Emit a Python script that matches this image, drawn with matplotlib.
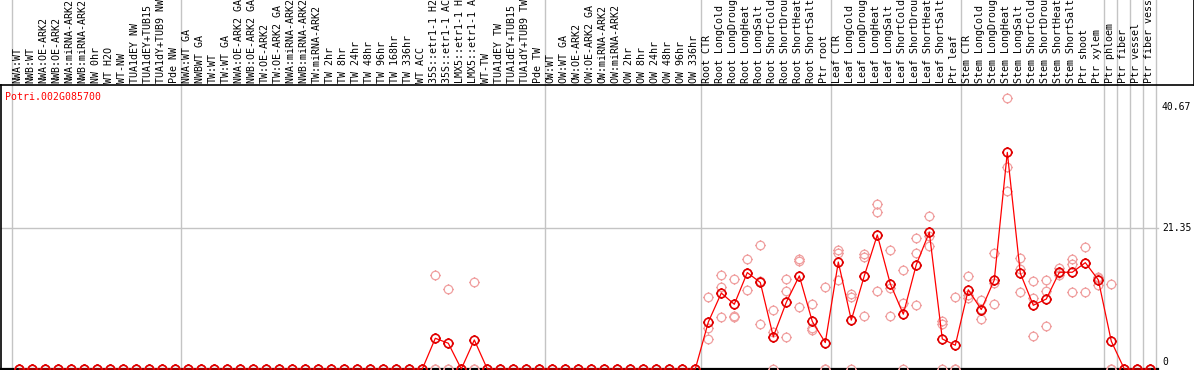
import matplotlib
matplotlib.use("Agg")
import matplotlib.pyplot as plt
import numpy as np
from matplotlib.path import Path

gene = "Potri.002G085700"

samples = [
    # group 1
    "NWA:WT", "NWB:WT", "NWA:OE-ARK2", "NWB:OE-ARK2", "NWA:miRNA-ARK2", "NWB:miRNA-ARK2",
    "NW 0hr", "WT H2O", "WT-NW", "TUA1dEY NW", "TUA1dEY+TUB15 NW", "TUA1dY+TUB9 NW", "Pde NW",
    # group 2
    "NWA:WT GA", "NWBWT GA", "TW:WT", "TW:WT GA", "NWA:OE-ARK2 GA", "NWB:OE-ARK2 GA",
    "TW:OE-ARK2", "TW:OE-ARK2 GA", "NWA:miRNA-ARK2 GA", "NWB:miRNA-ARK2 GA", "TW:miRNA-ARK2",
    "TW 2hr", "TW 8hr", "TW 24hr", "TW 48hr", "TW 96hr", "TW 168hr", "TW 336hr", "WT ACC",
    "35S::etr1-1 H2O", "35S::etr1-1 ACC", "LMX5::etr1-1 H2O", "LMX5::etr1-1 ACC",
    "WT-TW", "TUA1dEY TW", "TUA1dEY+TUB15 TW", "TUA1dY+TUB9 TW", "Pde TW",
    # group 3
    "OW:WT", "OW:WT GA", "OW:OE-ARK2", "OW:OE-ARK2 GA", "OW:miRNA-ARK2", "OW:miRNA-ARK2 GA",
    "OW 2hr", "OW 8hr", "OW 24hr", "OW 48hr", "OW 96hr", "OW 336hr",
    # root
    "Root CTR", "Root LongCold", "Root LongDrought", "Root LongHeat", "Root LongSalt",
    "Root ShortCold", "Root ShortDrought", "Root ShortHeat", "Root ShortSalt", "Ptr root",
    # leaf
    "Leaf CTR", "Leaf LongCold", "Leaf LongDrought", "Leaf LongHeat", "Leaf LongSalt",
    "Leaf ShortCold", "Leaf ShortDrought", "Leaf ShortHeat", "Leaf ShortSalt", "Ptr leaf",
    # stem
    "Stem CTR", "Stem LongCold", "Stem LongDrought", "Stem LongHeat", "Stem LongSalt",
    "Stem ShortCold", "Stem ShortDrought", "Stem ShortHeat", "Stem ShortSalt", "Ptr shoot",
    "Ptr xylem",
    "Ptr phloem", "Ptr fiber", "Ptr vessel", "Ptr fiber vessel",
]

# last sample index of each group (separator drawn right after it)
group_ends = [-1, 12, 40, 52, 62, 72, 83, 84, 85, 86, 87]

mean_vals = ([0] * 32 + [4.65, 3.9, 0, 4.4] + [0] * 17 +
             [7.1, 11.5, 9.8, 14.6, 13.1, 4.9, 10.1, 14.1, 7.2, 4.0,
              16.2, 7.4, 14.1, 20.3, 12.9, 8.3, 15.8, 20.7, 4.55, 3.6,
              12.0, 9.0, 13.5, 32.8, 14.5, 9.65, 10.6, 14.65, 14.65, 16.1, 13.5,
              4.2, 0, 0, 0])

# replicates (only samples with a nonzero replicate; all others are 0)
rep_idx = [32, 33, 35, 53, 54, 55, 56, 57, 58, 59, 60, 61, 62, 63, 64, 65, 66, 67,
           68, 69, 70, 71, 72, 73, 74, 75, 76, 77, 78, 79, 80, 81, 82, 83, 84]
rep1 = [14.3, 12.1, 13.1, 10.9, 14.2, 13.7, 16.6, 18.8, 8.9, 13.6, 16.6, 9.8, 12.4, 18.0,
        11.3, 17.4, 25.0, 18.0, 15.0, 19.8, 23.2, 7.2, 10.9, 14.1, 10.45, 17.6, 41.0,
        16.8, 13.3, 13.5, 15.25, 16.6, 18.5, 14.0, 12.9]
rep2 = [0, 0, 0, 6.2, 12.4, 8.0, 14.6, 13.3, 5.65, 11.8, 16.3, 6.2, 0, 17.6,
        10.95, 16.9, 23.8, 12.2, 10.05, 17.5, 20.2, 6.8, 0, 11.2, 9.05, 13.0, 30.6,
        15.1, 10.7, 11.8, 14.5, 15.9, 16.1, 13.8, 0]
rep3 = [0, 0, 0, 4.5, 7.8, 7.8, 12.0, 6.8, 0, 4.9, 9.4, 5.9, 0, 13.5,
        0, 8.0, 11.8, 8.0, 0, 9.65, 18.7, 0, 0, 10.7, 7.5, 9.85, 26.9,
        11.6, 5.0, 6.5, 14.2, 11.6, 11.6, 12.7, 0]

yticks = [0, 21.35, 40.67]

W, H = 1194, 370
n = len(samples)
x = np.arange(n)

# pixel layout
x0_px, step_px = 19.3, 13.0
y0_px, unit_px = 369.0, 6.604
xmin = -x0_px / step_px
xmax = (W - x0_px) / step_px
ymin = -(H - y0_px) / unit_px
ymax = y0_px / unit_px


def px_x(p):
    return xmin + p / W * (xmax - xmin)


def px_y(p):  # p measured from the top
    return (y0_px - p) / unit_px


fig = plt.figure(figsize=(W / 100, H / 100), dpi=100)
ax = fig.add_axes([0, 0, 1, 1])
ax.set_xlim(xmin, xmax)
ax.set_ylim(ymin, ymax)
ax.axis("off")

# marker: open circle with four little ticks
tick_v = [[0, 1], [0, 1.24], [0, -1], [0, -1.24], [1, 0], [1.24, 0], [-1, 0], [-1.24, 0]]
tick_c = [Path.MOVETO, Path.LINETO] * 4
mk = Path.make_compound_path(Path.unit_circle(), Path(tick_v, tick_c))

grid_c = "#c4c4c4"
# vertical separators
for g in group_ends:
    ax.plot([g + 0.4, g + 0.4], [px_y(0), 0], color=grid_c, lw=1.0, zorder=1)
# horizontal grid line
ax.plot([px_x(1), px_x(1158)], [yticks[1], yticks[1]], color=grid_c, lw=1.0, zorder=1)

# frame lines
ax.plot([px_x(1), px_x(1158)], [0, 0], color="black", lw=1.6, zorder=2)
ax.plot([px_x(1), px_x(1)], [px_y(85), 0], color="black", lw=1.2, zorder=2)
ax.plot([px_x(0), px_x(1193.5)], [px_y(85), px_y(85)], color="black", lw=1.2, zorder=2)
ax.plot([px_x(1193.5), px_x(1193.5)], [px_y(0), px_y(85)], color="black", lw=1.2, zorder=2)

# replicates
reps = np.zeros((3, n))
for k, r in enumerate([rep1, rep2, rep3]):
    reps[k, rep_idx] = r
for k in range(3):
    ax.plot(x, reps[k], ls="none", marker=mk, ms=7.6, mfc="none",
            mec="#f0a0a0", mew=0.9, zorder=3)

# mean line + markers
ax.plot(x, mean_vals, color="#ff0000", lw=0.9, zorder=4)
ax.plot(x, mean_vals, ls="none", marker=mk, ms=7.6, mfc="none",
        mec="#e00000", mew=1.2, zorder=5)

# y tick labels on the right
for v in yticks:
    yp = 362 - v * (255 / yticks[2])
    ax.text(px_x(1162), px_y(yp), f"{v:g}", ha="left", va="center",
            fontsize=7, family="DejaVu Sans Mono", color="black")

ax.text(px_x(5), px_y(97), gene, ha="left", va="center", fontsize=7.1,
        family="DejaVu Sans Mono", color="#ff0000")

# sample labels in the header strip (clipped at the top)
ax_lab = fig.add_axes([0, (H - 85) / H, 1, 85 / H])
ax_lab.set_xlim(xmin, xmax)
ax_lab.set_ylim(0, 85)
ax_lab.axis("off")
for i, s in enumerate(samples):
    ax_lab.text(i - 0.12, 2, s, rotation=90, ha="center", va="bottom",
                fontsize=7.2, family="DejaVu Sans Mono", color="black", clip_on=True)

fig.savefig("out.png", dpi=100)
